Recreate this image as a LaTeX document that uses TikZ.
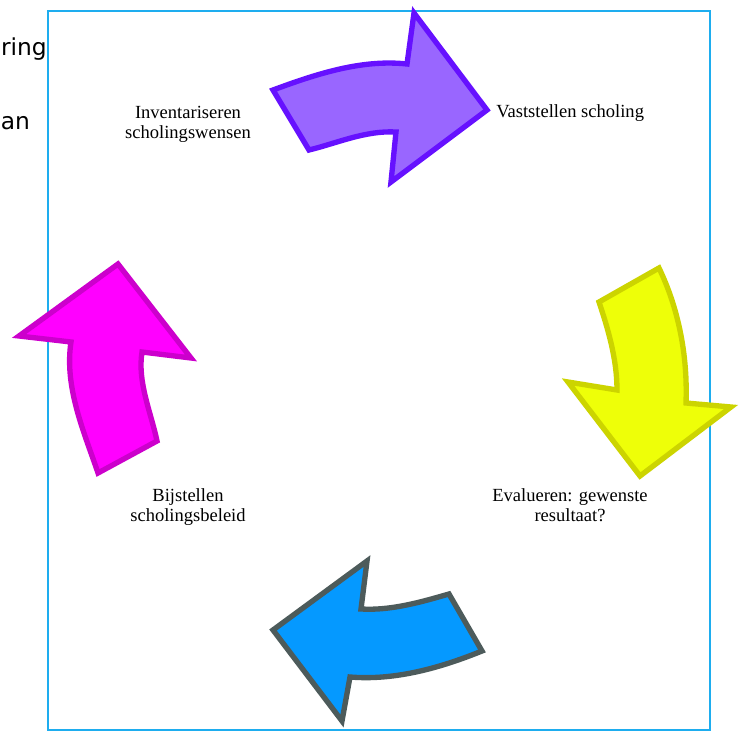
\documentclass[tikz,border=0pt]{standalone}
\usepackage{fontspec}
\setmainfont{Liberation Serif}
\newfontfamily\sideSans{DejaVu Sans}
\definecolor{frameBlue}{HTML}{1EADEF}
\definecolor{violetFill}{HTML}{9966FF}
\definecolor{violetLine}{HTML}{6611FF}
\definecolor{yellowFill}{HTML}{EEFF08}
\definecolor{yellowLine}{HTML}{CCD400}
\definecolor{pinkFill}{HTML}{FF00FF}
\definecolor{pinkLine}{HTML}{CC00CC}
\definecolor{skyFill}{HTML}{0599FF}
\definecolor{skyLine}{HTML}{4D5B5B}
\tikzset{
  cyclearrow/.style={line width=4pt, line join=miter},
  steplabel/.style={inner sep=0pt, align=center, font=\fontsize{13.9}{15.5}\selectfont},
  cuttext/.style={inner sep=0pt, font=\sideSans\fontsize{17.5}{20}\selectfont}
}
\begin{document}
\begin{tikzpicture}[x=0.75pt, y=-0.75pt]
        \useasboundingbox (0, 0) rectangle (740, 731);
        \clip (0, 0) rectangle (740, 731);

        \node [cuttext, anchor=base east] (ringtext) at (47, 56) {ring};
        \node [cuttext, anchor=base west] (antext) at (0.5, 130) {an};

        \draw [frameBlue, line width=1.5pt] (48, 11) rectangle (710, 730);

        \begin{scope}
          \draw [cyclearrow, draw=violetLine, fill=violetFill] (273, 90) -- (309, 150)
            .. controls (336.4, 143.4) and (365.3, 130.3) .. (396, 132) -- (391, 182)
            -- (487, 110) -- (414, 13) -- (407, 64)
            .. controls (361, 59) and (315, 74.5) .. (273, 90) -- cycle;
          \draw [cyclearrow, draw=yellowLine, fill=yellowFill] (599, 302) -- (659, 268)
            .. controls (678.3, 308.1) and (687.8, 354.8) .. (686, 403) -- (731, 407)
            -- (640, 476) -- (568, 382) -- (617, 390)
            .. controls (617, 359) and (607.9, 328.6) .. (599, 302) -- cycle;
          \draw [cyclearrow, draw=pinkLine, fill=pinkFill] (142, 352) -- (191, 358)
            -- (118, 264) -- (19, 336) -- (71, 342)
            .. controls (64, 387.5) and (84.5, 433) .. (98, 473) -- (157, 441)
            .. controls (151, 412.3) and (137.2, 382.1) .. (142, 352) -- cycle;
          \draw [cyclearrow, draw=skyLine, fill=skyFill] (361, 609)
            .. controls (390.7, 610.8) and (420.9, 602.1) .. (449, 594) -- (482, 651)
            .. controls (442, 667.2) and (396.1, 680.8) .. (350, 677) -- (342, 721)
            -- (273, 630) -- (367, 561) -- cycle;
        \end{scope}

        \node [steplabel] (inventariseren) at (188, 124.2) {Inventariseren\\scholingswensen};
        \node [steplabel, anchor=base west] (vaststellen) at (496, 118) {Vaststellen scholing};
        \node [steplabel] (evalueren) at (570, 505.3) {Evalueren: gewenste\\resultaat?};
        \node [steplabel] (bijstellen) at (188, 507.2) {Bijstellen\\scholingsbeleid};
      \end{tikzpicture}
\end{document}
